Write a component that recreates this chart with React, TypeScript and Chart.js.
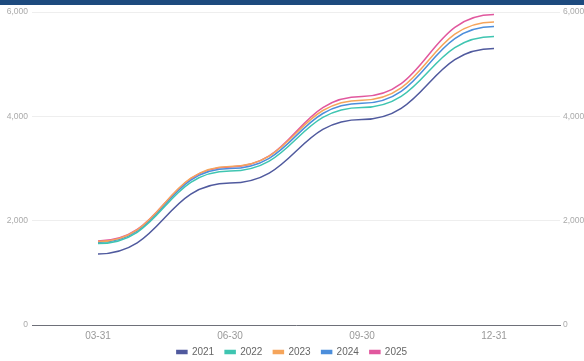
import React, { useEffect, useRef } from "react";
import { Chart, registerables } from "chart.js";

Chart.register(...registerables);

const categories = ["03-31", "06-30", "09-30", "12-31"];
const seriesNames = ["2021", "2022", "2023", "2024", "2025"];
const values2021 = [1360, 2720, 3940, 5300];
const values2022 = [1560, 2950, 4170, 5530];
const values2023 = [1600, 3040, 4310, 5810];
const values2024 = [1580, 3000, 4250, 5720];
const values2025 = [1610, 3030, 4380, 5950];
const yTicks = [0, 2000, 4000, 6000];
const colors = ["#505a9e", "#3fc5b1", "#f5a55b", "#4c8edb", "#e1589e"];

const FONT = "'Liberation Sans Narrow', 'Liberation Sans', Arial, sans-serif";

const flatBezier = {
  id: "flatBezier",
  beforeLayout(chart: any) {
    const lg = chart.legend;
    if (lg && !lg._patched) {
      const orig = lg.fit;
      lg.fit = function () {
        orig.call(this);
        this.height = 19;
      };
      lg._patched = true;
    }
  },
  afterLayout(chart: any) {
    const lg = chart.legend;
    if (lg) {
      lg.top = 336;
      lg.bottom = 355;
    }
  },
  beforeDatasetsDraw(chart: any) {
    chart.getSortedVisibleDatasetMetas().forEach((meta: any) => {
      const line = meta.dataset;
      const pts = meta.data;
      const k = 0.5;
      for (let i = 0; i < pts.length; i++) {
        const p = pts[i];
        const prev = pts[i - 1] || p;
        const next = pts[i + 1] || p;
        p.cp1x = p.x - (p.x - prev.x) * k;
        p.cp1y = p.y;
        p.cp2x = p.x + (next.x - p.x) * k;
        p.cp2y = p.y;
      }
      if (line) {
        line._pointsUpdated = true;
        line._path = undefined;
      }
    });
  },
};

export default function App() {
  const ref = useRef<HTMLCanvasElement>(null);
  useEffect(() => {
    document.body.style.margin = "0";
    const all = [values2021, values2022, values2023, values2024, values2025];
    const chart = new Chart(ref.current!, {
      type: "line",
      data: {
        labels: categories,
        datasets: seriesNames.map((name, i) => ({
          label: name,
          data: all[i],
          borderColor: colors[i],
          backgroundColor: colors[i],
          borderWidth: 1.5,
          pointRadius: 0,
          pointHoverRadius: 0,
          tension: 0.4,
          fill: false,
          yAxisID: "y",
        })),
      },
      options: {
        responsive: false,
        animation: false,
        layout: { padding: { top: 12, bottom: 0, left: 0, right: 0 } },
        plugins: {
          tooltip: { enabled: false },
          legend: {
            position: "bottom",
            labels: {
              boxWidth: 10,
              boxHeight: 3,
              padding: 11,
              color: "#666",
              font: { family: FONT, size: 10 },
            },
          },
        },
        scales: {
          x: {
            offset: true,
            grid: { display: false, drawTicks: false },
            border: { display: true, color: "#6e7079", width: 1 },
            ticks: { color: "#999", padding: 5, font: { family: FONT, size: 10 } },
            afterFit: (s: any) => { s.height = 17; },
          },
          y: {
            position: "left",
            min: 0,
            max: 6000,
            afterBuildTicks: (s: any) => { s.ticks = yTicks.map((v) => ({ value: v })); },
            grid: { color: "#eeeeee", drawTicks: false },
            border: { display: false },
            ticks: {
              color: "#aaa",
              padding: 4,
              font: { family: FONT, size: 8.5 },
              callback: (v: any) => Number(v).toLocaleString("en-US"),
            },
            afterFit: (s: any) => { s.width = 32; },
          },
          y2: {
            position: "right",
            min: 0,
            max: 6000,
            afterBuildTicks: (s: any) => { s.ticks = yTicks.map((v) => ({ value: v })); },
            grid: { display: false, drawTicks: false },
            border: { display: false },
            ticks: {
              color: "#aaa",
              padding: 3,
              font: { family: FONT, size: 8.5 },
              callback: (v: any) => Number(v).toLocaleString("en-US"),
            },
            afterFit: (s: any) => { s.width = 24; },
          },
        },
      },
      plugins: [flatBezier],
    });
    return () => chart.destroy();
  }, []);
  return (
    <div style={{ position: "fixed", left: 0, top: 0, width: 584, height: 361, background: "#fff" }}>
      <canvas ref={ref} width={584} height={361} style={{ position: "absolute", left: 0, top: 0 }} />
      <div style={{ position: "absolute", left: 0, top: 0, width: 584, height: 5, background: "#1d4a7e" }} />
    </div>
  );
}
